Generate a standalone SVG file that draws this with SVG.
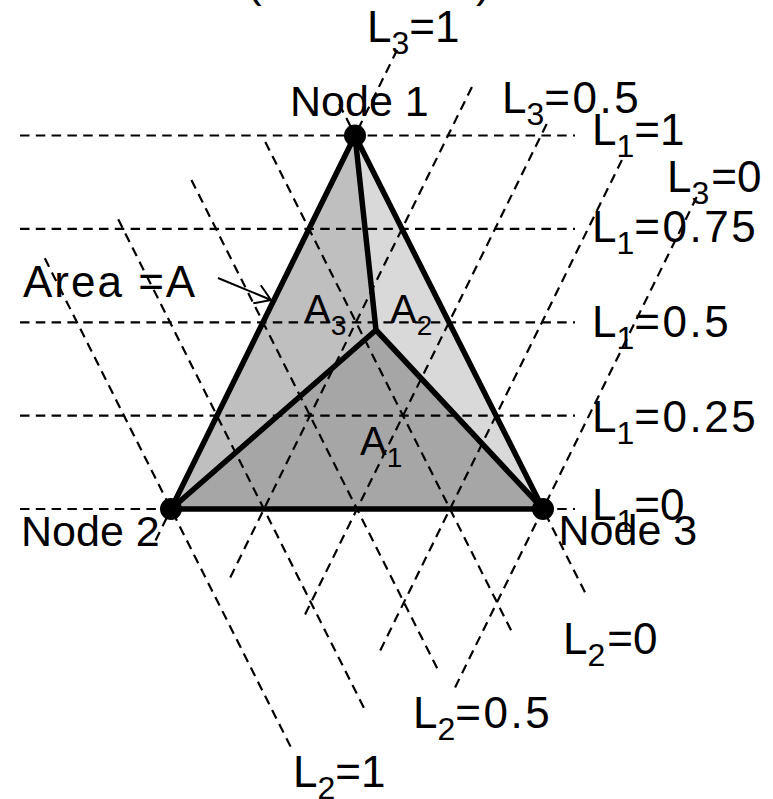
<svg xmlns="http://www.w3.org/2000/svg" width="773" height="799" viewBox="0 0 773 799">
<style>
  text { font-family: "Liberation Sans", Arial, sans-serif; font-size: 44px; fill: #000; }
  .node { font-size: 43px; }
  .sub { font-size: 32px; }
  .num { letter-spacing: 2.5px; }
  .area { font-size: 40px; }
  .asub { font-size: 28px; }
  .dash { stroke: #000; stroke-width: 2.2; stroke-dasharray: 9.5 6.3; fill: none; }
  .edge { stroke: #000; stroke-width: 5.5; fill: none; stroke-linejoin: round; stroke-linecap: round; }
  .dot { fill: #000; }
</style>
<rect width="773" height="799" fill="#fff"/>

<!-- cut-off title brackets -->
<text x="247" y="-3">(</text>
<text x="476" y="-3">)</text>

<g id="regions">
  <polygon id="regionA3" points="355,135.5 171,509 376,330" fill="#bfbfbf"/>
  <polygon id="regionA2" points="355,135.5 376,330 543,509" fill="#d9d9d9"/>
  <polygon id="regionA1" points="171,509 376,330 543,509" fill="#a6a6a6"/>
</g>

<g id="connectors">
  <!-- L1 horizontal lines -->
  <line class="dash" x1="20" y1="135.5" x2="575" y2="135.5"/>
  <line class="dash" x1="20" y1="228.9" x2="575" y2="228.9"/>
  <line class="dash" x1="20" y1="322.3" x2="575" y2="322.3"/>
  <line class="dash" x1="20" y1="415.6" x2="575" y2="415.6"/>
  <line class="dash" x1="20" y1="509" x2="575" y2="509"/>
  <!-- L3 lines (/) -->
  <line class="dash" x1="397.1" y1="50" x2="152.8" y2="546"/>
  <line class="dash" x1="471.9" y1="87" x2="228" y2="582"/>
  <line class="dash" x1="546.7" y1="124" x2="303.3" y2="618"/>
  <line class="dash" x1="621.9" y1="160" x2="378" y2="655"/>
  <line class="dash" x1="696.7" y1="197" x2="453.8" y2="690"/>
  <!-- L2 lines (\) -->
  <line class="dash" x1="339.2" y1="104" x2="587.3" y2="597"/>
  <line class="dash" x1="265.3" y1="142" x2="512.9" y2="634"/>
  <line class="dash" x1="191.4" y1="180" x2="439" y2="672"/>
  <line class="dash" x1="118.2" y1="219.3" x2="365" y2="710"/>
  <line class="dash" x1="44.8" y1="258.3" x2="292.3" y2="750"/>
  <!-- area pointer -->
  <path d="M218,278 L271,300 M260.8,285.2 L271,300 L253.3,303.3" stroke="#000" stroke-width="2" fill="none"/>
</g>

<g id="edges">
  <polygon class="edge" points="355,135.5 171,509 543,509"/>
  <polyline class="edge" points="355,135.5 376,330"/>
  <polyline class="edge" points="171,509 376,330 543,509"/>
</g>

<g id="node1">
  <circle class="dot" cx="355" cy="135.5" r="11"/>
  <text class="node" x="290" y="116">Node 1</text>
</g>
<g id="node2">
  <circle class="dot" cx="171" cy="509" r="11"/>
  <text class="node" x="21" y="546">Node 2</text>
</g>
<g id="node3">
  <circle class="dot" cx="543" cy="509" r="11"/>
  <text class="node" x="558.5" y="545">Node 3</text>
</g>

<g id="area-labels">
  <text x="23" y="296.7" style="letter-spacing:2px">Area =A</text>
  <text class="area" x="304" y="323">A<tspan class="asub" dy="12">3</tspan></text>
  <text class="area" x="390" y="323">A<tspan class="asub" dy="12">2</tspan></text>
  <text class="area" x="360" y="455">A<tspan class="asub" dy="12">1</tspan></text>
</g>

<g id="l3-labels">
  <text x="367" y="42">L<tspan class="sub" dy="12">3</tspan><tspan dy="-12">=1</tspan></text>
  <text x="502" y="113">L<tspan class="sub" dy="12">3</tspan><tspan dy="-12" class="num">=0.5</tspan></text>
  <text x="667" y="191.7">L<tspan class="sub" dy="12">3</tspan><tspan dy="-12" dx="2">=0</tspan></text>
</g>
<g id="l1-labels">
  <text x="592" y="145">L<tspan class="sub" dy="12">1</tspan><tspan dy="-12">=1</tspan></text>
  <text x="592" y="241.7">L<tspan class="sub" dy="12">1</tspan><tspan dy="-12" class="num">=0.75</tspan></text>
  <text x="592" y="336.7">L<tspan class="sub" dy="12">1</tspan><tspan dy="-12" class="num">=0.5</tspan></text>
  <text x="592" y="431.7">L<tspan class="sub" dy="12">1</tspan><tspan dy="-12" class="num">=0.25</tspan></text>
  <text x="592" y="520">L<tspan class="sub" dy="12">1</tspan><tspan dy="-12">=0</tspan></text>
</g>
<g id="l2-labels">
  <text x="563" y="654">L<tspan class="sub" dy="12">2</tspan><tspan dy="-12" dx="2">=0</tspan></text>
  <text x="413" y="728">L<tspan class="sub" dy="12">2</tspan><tspan dy="-12" class="num">=0.5</tspan></text>
  <text x="293" y="786.7">L<tspan class="sub" dy="12">2</tspan><tspan dy="-12">=1</tspan></text>
</g>
</svg>
